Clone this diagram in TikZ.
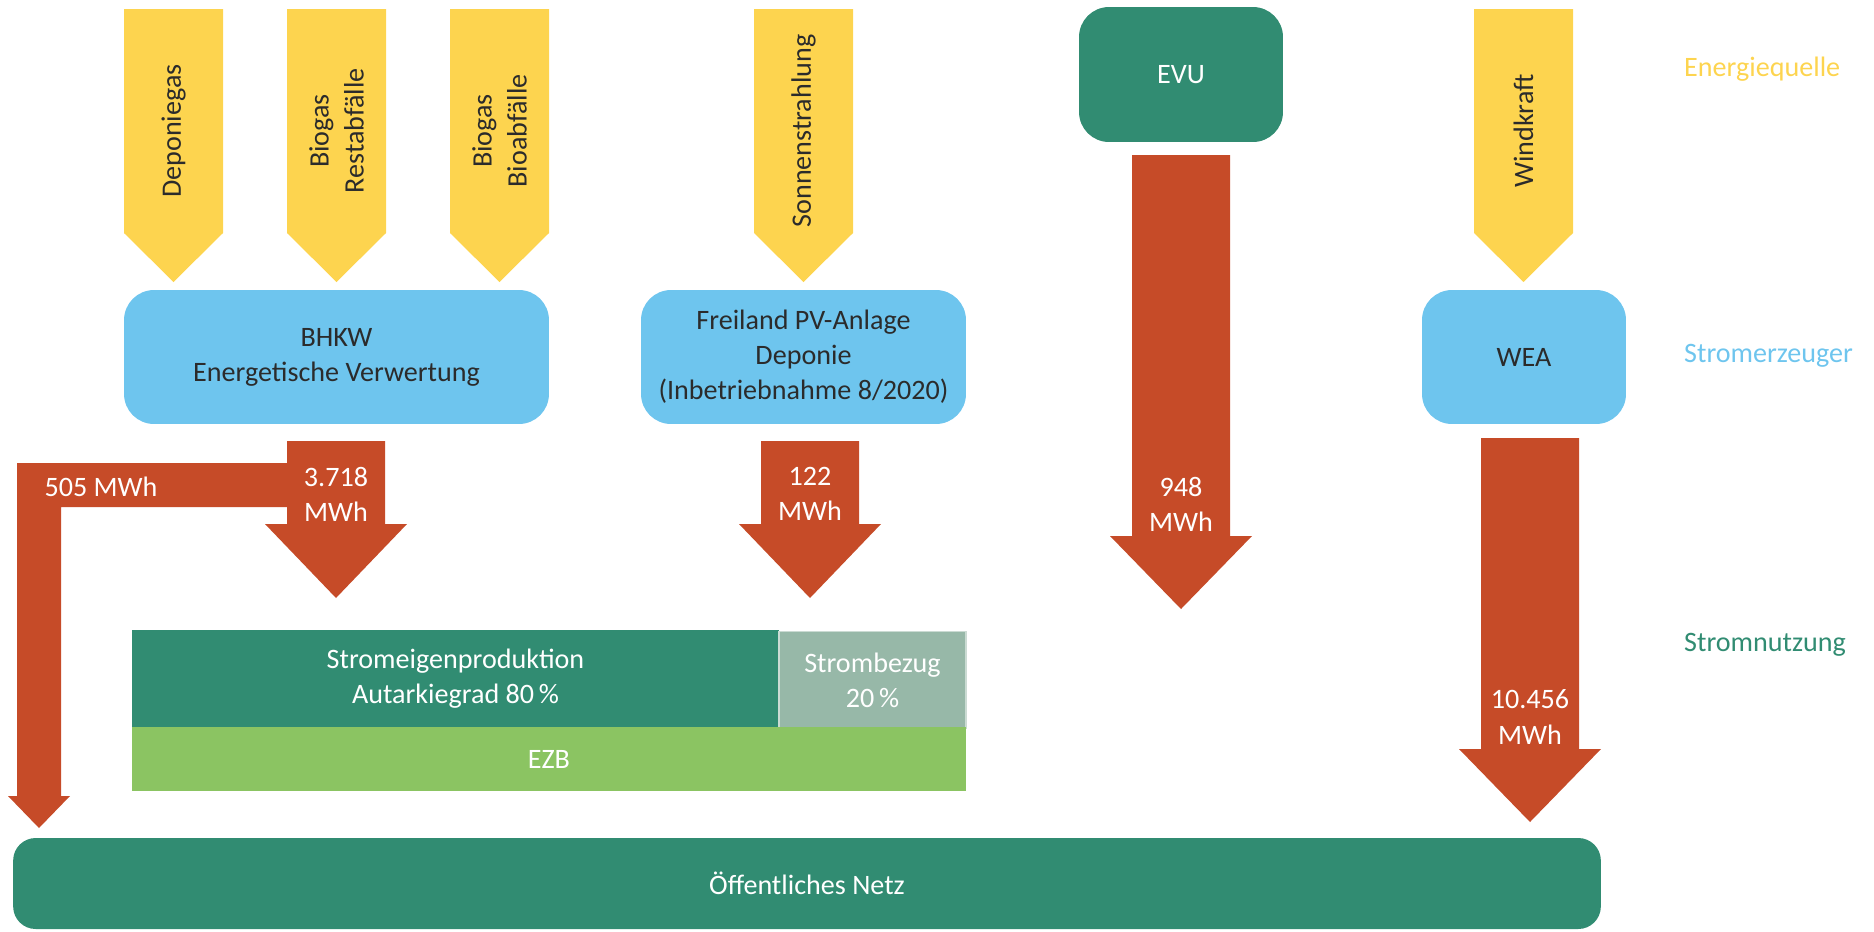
\documentclass[tikz,border=0pt]{standalone}
\usepackage{fontspec}
\setmainfont{Carlito}

\definecolor{quelle}{HTML}{FDD44F}
\definecolor{erzeuger}{HTML}{6EC5EE}
\definecolor{netzgruen}{HTML}{318C72}
\definecolor{fluss}{HTML}{C64B28}
\definecolor{bezug}{HTML}{97B8A8}
\definecolor{ezbgruen}{HTML}{8BC462}
\definecolor{schrift}{HTML}{2B2B2B}

% yellow source arrow: x centre, node name, label
\newcommand{\quellpfeil}[3]{%
  \fill[quelle] (#1-49.5,9) -- (#1+49.5,9) -- (#1+49.5,233) -- (#1,282) -- (#1-49.5,233) -- cycle;
  \node[quelltext] (#2) at (#1,131) {#3};}
% red flow arrow: x centre, top, start of head, tip
\newcommand{\flusspfeil}[4]{%
  \fill[fluss] (#1-49,#2) -- (#1+49,#2) -- (#1+49,#3) -- (#1+71,#3) -- (#1,#4) -- (#1-71,#3) -- (#1-49,#3) -- cycle;}

\begin{document}
\begin{tikzpicture}[x=0.02cm, y=-0.02cm,
    schriftart/.style={font=\fontsize{16}{20}\selectfont},
    quelltext/.style={schriftart, rotate=90, align=center, text=schrift},
    genbox/.style={schriftart, fill=erzeuger, rounded corners=0.6cm, align=center, text=schrift, minimum height=2.68cm},
    wert/.style={schriftart, text=white, align=center},
    ebene/.style={schriftart, anchor=west}]
    \useasboundingbox (0,0) rectangle (1874,931);

    % Energiequellen
    \quellpfeil{173.5}{depo}{Deponiegas}
    \quellpfeil{336.5}{rest}{Biogas\\Restabfälle}
    \quellpfeil{499.5}{bio}{Biogas\\Bioabfälle}
    \quellpfeil{803.5}{sonne}{Sonnenstrahlung}
    \quellpfeil{1523.5}{wind}{Windkraft}

    % Stromerzeuger
    \node[genbox, minimum width=8.5cm] (bhkw) at (336.5,357) {BHKW\\Energetische Verwertung};
    \node[genbox, minimum width=6.5cm] (pv) at (803.5,357) {Freiland PV-Anlage\\Deponie\\(Inbetriebnahme 8/2020)};
    \node[genbox, minimum width=4.08cm] (wea) at (1524,357) {WEA};
    \node[genbox, fill=netzgruen, text=white, minimum width=4.08cm, minimum height=2.7cm] (evu) at (1181,74.5) {EVU};

    % Stromfluesse
    \fill[fluss] (17,463) -- (287,463) -- (287,507) -- (61,507) -- (61,796) -- (70,796) -- (39,828) -- (8,796) -- (17,796) -- cycle;
    \flusspfeil{336}{441}{524}{598}
    \flusspfeil{810}{441}{524}{598}
    \flusspfeil{1181}{155}{536}{609}
    \flusspfeil{1530}{438}{749}{822}
    \node[wert] (w505) at (101,487) {505 MWh};
    \node[wert] (w3718) at (336,494) {3.718\\MWh};
    \node[wert] (w122) at (810,494) {122\\MWh};
    \node[wert] (w948) at (1181,504) {948\\MWh};
    \node[wert] (w10456) at (1530,717) {10.456\\MWh};

    % Stromnutzung
    \node[wert, fill=netzgruen, minimum width=12.94cm, minimum height=1.94cm] (eigen) at (455.5,678.5) {Stromeigenproduktion\\Autarkiegrad 80\,\%};
    \node[wert, fill=bezug, draw=bezug!50!white, line width=0.6pt, minimum width=3.74cm, minimum height=1.94cm] (bezug) at (872.5,680) {Strombezug\\20\,\%};
    \node[wert, fill=ezbgruen, minimum width=16.68cm, minimum height=1.28cm] (ezb) at (549,759) {EZB};
    \node[wert, fill=netzgruen, rounded corners=0.45cm, minimum width=31.76cm, minimum height=1.82cm] (netz) at (807,883.5) {Öffentliches Netz};

    % Ebenen
    \node[ebene, text=quelle] (l1) at (1678,69) {Energiequelle};
    \node[ebene, text=erzeuger] (l2) at (1678,356) {Stromerzeuger};
    \node[ebene, text=netzgruen] (l3) at (1678,645) {Stromnutzung};
\end{tikzpicture}
\end{document}
